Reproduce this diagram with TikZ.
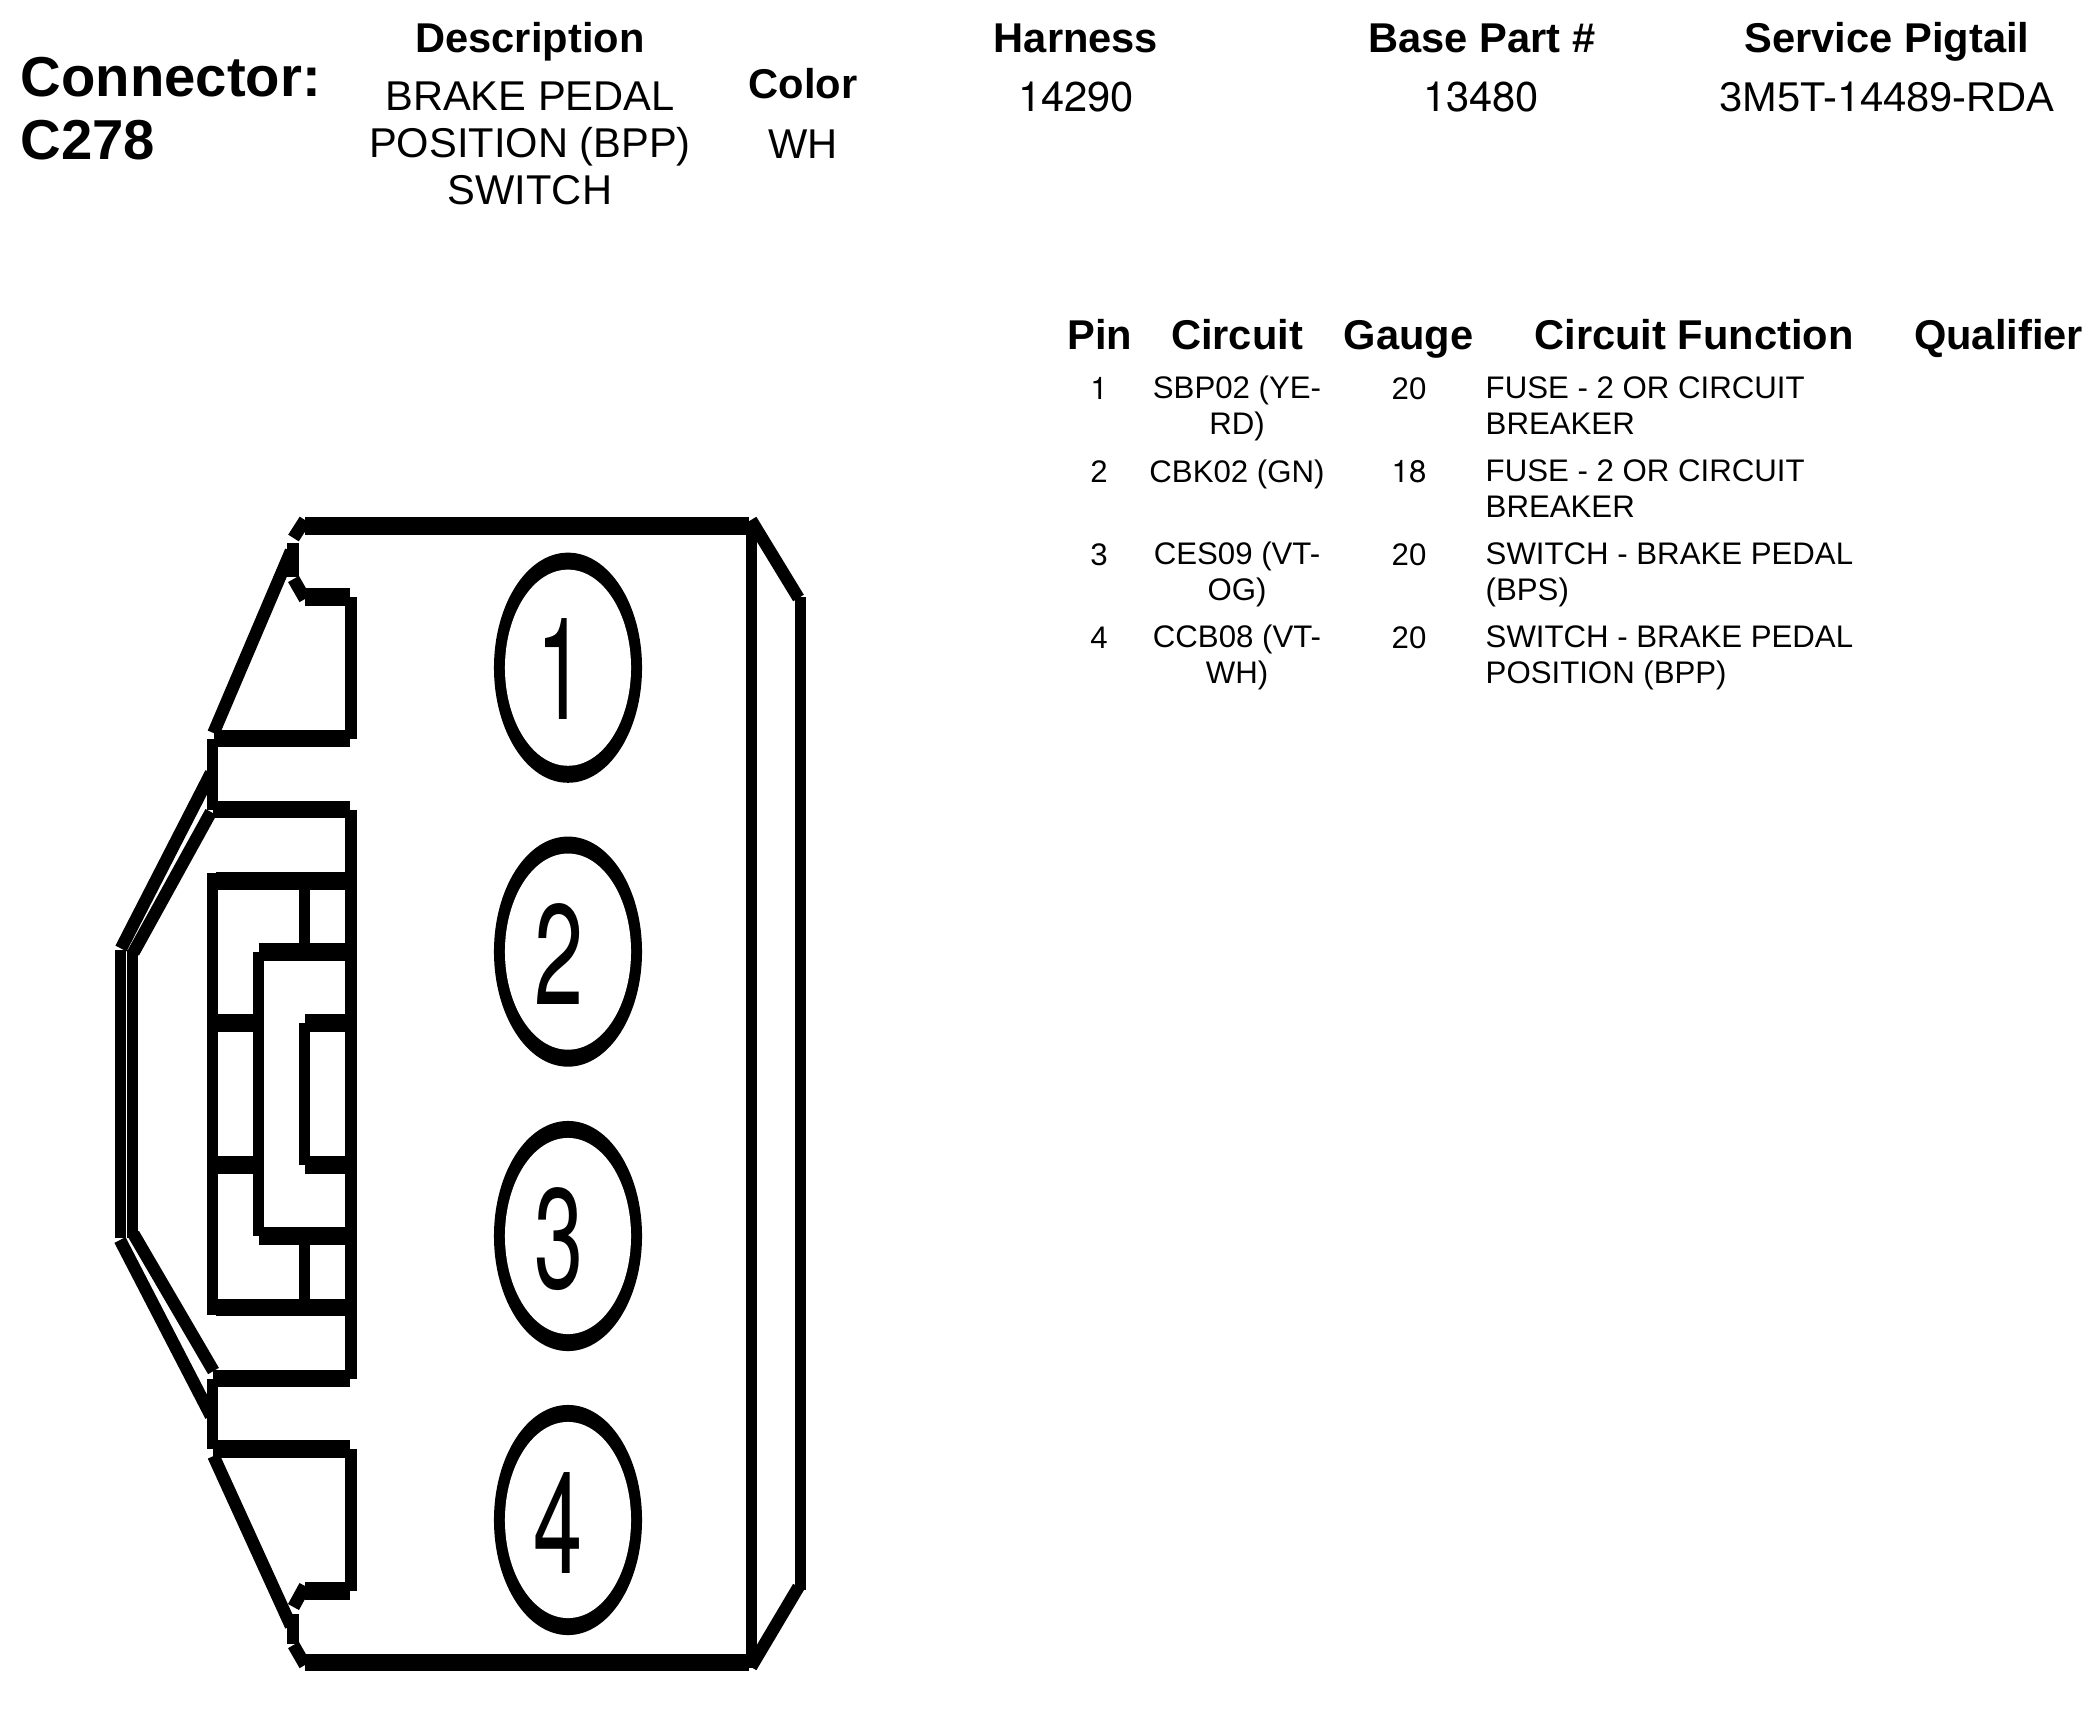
\documentclass[tikz,border=0pt]{standalone}
\usepackage{fontspec}
\setmainfont{Liberation Sans}
\newfontfamily\pinfont{TeX Gyre Heros}
\tikzset{
	hwall/.style={line width=0.175cm},
	vwall/.style={line width=0.11cm},
	slantwall/.style={line width=0.125cm},
	bigtext/.style={inner sep=0pt, anchor=base west, align=left, font=\fontsize{16}{17.9}\selectfont\bfseries},
	headtext/.style={inner sep=0pt, anchor=base, font=\fontsize{11.84}{13.4}\selectfont\bfseries},
	valtext/.style={inner sep=0pt, anchor=base, align=center, font=\fontsize{11.84}{13.3}\selectfont},
	celltext/.style={inner sep=0pt, anchor=base, align=center, font=\fontsize{8.87}{9.96}\selectfont},
	functext/.style={inner sep=0pt, anchor=base west, align=left, font=\fontsize{8.87}{9.96}\selectfont},
	pindigit/.style={inner sep=0pt, xscale=0.62, font=\fontsize{40.5}{40.5}\selectfont\pinfont}
}
\begin{document}
\begin{tikzpicture}[x=0.01cm, y=-0.01cm]
	\useasboundingbox (0,0) rectangle (2096,1720);
	\node[bigtext] (conn) at (20,159.5) {Connector:\\C278};
	\node[headtext] (desc) at (530,52) {Description};
	\node[valtext] (descval) at (530,204) {BRAKE PEDAL\\POSITION (BPP)\\SWITCH};
	\node[headtext] (color) at (803,98) {Color};
	\node[valtext] (colorval) at (803,158) {WH};
	\node[headtext] (harness) at (1076,52) {Harness};
	\node[valtext] (harnessval) at (1076,111) {\pinfont 14290};
	\node[headtext] (base) at (1482,52) {Base Part \#};
	\node[valtext] (baseval) at (1481,111) {\pinfont 13480};
	\node[headtext] (pigtail) at (1887,52) {Service Pigtail};
	\node[valtext] (pigtailval) at (1887,111) {3M5T-{\pinfont 1}4489-RDA};

	\node[headtext] (pin) at (1100,349) {Pin};
	\node[headtext] (circuit) at (1237,349) {Circuit};
	\node[headtext] (gauge) at (1408.5,349) {Gauge};
	\node[headtext] (func) at (1694,349) {Circuit Function};
	\node[headtext] (qual) at (1998.5,349) {Qualifier};

	\node[celltext] (pina) at (1099,399) {\pinfont 1};
	\node[celltext] (cira) at (1237,434) {SBP02 (YE-\\RD)};
	\node[celltext] (gaua) at (1409,399) {20};
	\node[functext] (funa) at (1485,434) {FUSE - 2 OR CIRCUIT\\BREAKER};
	\node[celltext] (pinb) at (1099,482) {2};
	\node[celltext] (cirb) at (1237,482) {CBK02 (GN)};
	\node[celltext] (gaub) at (1409,482) {\pinfont 18};
	\node[functext] (funb) at (1485,517) {FUSE - 2 OR CIRCUIT\\BREAKER};
	\node[celltext] (pinc) at (1099,565) {3};
	\node[celltext] (circ) at (1237,600) {CES09 (VT-\\OG)};
	\node[celltext] (gauc) at (1409,565) {20};
	\node[functext] (func3) at (1485,600) {SWITCH - BRAKE PEDAL\\(BPS)};
	\node[celltext] (pind) at (1099,648) {4};
	\node[celltext] (cird) at (1237,683) {CCB08 (VT-\\WH)};
	\node[celltext] (gaud) at (1409,648) {20};
	\node[functext] (fund) at (1485,683) {SWITCH - BRAKE PEDAL\\POSITION (BPP)};

	\draw[hwall] (305,526) -- (749,526);
	\draw[hwall] (305,1662.5) -- (749,1662.5);
	\draw[vwall] (751,521) -- (751,1668);
	\draw[vwall] (800,597) -- (800,1590);
	\draw[slantwall] (751,520) -- (798.5,598);
	\draw[slantwall] (798.5,1587) -- (751,1667);

	\draw[slantwall] (305,520) -- (293.5,538);
	\draw[vwall] (293,543) -- (293,577);
	\draw[slantwall] (293.5,579) -- (305,599);
	\draw[hwall] (305,597) -- (350,597);
	\draw[vwall] (351,597) -- (351,739);
	\draw[hwall] (213.5,738.5) -- (350,738.5);
	\draw[slantwall] (291,551) -- (213.5,733);
	\draw[vwall] (212.5,739) -- (212.5,810);
	\draw[hwall] (212.5,809.5) -- (350,809.5);
	\draw[slantwall] (211,773) -- (121,948.5);
	\draw[slantwall] (211,812) -- (133.5,952.5);
	\draw[vwall] (120.5,950) -- (120.5,1238);
	\draw[vwall] (132.5,950) -- (132.5,1238);
	\draw[slantwall] (120,1240) -- (211,1416);
	\draw[slantwall] (133.5,1234) -- (213.5,1371);
	\draw[vwall] (212.5,1378.5) -- (212.5,1449);
	\draw[hwall] (212.5,1378.5) -- (350,1378.5);
	\draw[hwall] (212.5,1449) -- (350,1449);
	\draw[vwall] (351,1449) -- (351,1591);
	\draw[hwall] (305,1591) -- (350,1591);
	\draw[slantwall] (305,1586) -- (293.5,1607);
	\draw[vwall] (293,1614) -- (293,1644);
	\draw[slantwall] (293.5,1645) -- (305,1665);
	\draw[slantwall] (213.5,1456) -- (291,1626);

	\draw[vwall] (351,809.5) -- (351,1378.5);
	\draw[hwall] (216,881) -- (351,881);
	\draw[vwall] (212.5,873) -- (212.5,1315);
	\draw[vwall] (304.5,881) -- (304.5,952);
	\draw[hwall] (258.5,952) -- (351,952);
	\draw[vwall] (258.5,952) -- (258.5,1236);
	\draw[hwall] (212.5,1023) -- (258.5,1023);
	\draw[hwall] (305,1023) -- (351,1023);
	\draw[vwall] (304.5,1023) -- (304.5,1165);
	\draw[hwall] (212.5,1165) -- (258.5,1165);
	\draw[hwall] (305,1165) -- (351,1165);
	\draw[hwall] (258.5,1236) -- (351,1236);
	\draw[vwall] (304.5,1236) -- (304.5,1307);
	\draw[hwall] (216,1307.5) -- (351,1307.5);

	\foreach \n/\yc/\xd/\yd in {1/667.7/561/669, 2/951.6/559/954, 3/1236/559/1239, 4/1520/558/1522.5} {
		\fill (568,\yc) ellipse [x radius=0.74cm, y radius=1.15cm];
		\fill[white] (568,\yc) ellipse [x radius=0.63cm, y radius=0.98cm];
		\node[pindigit] (digit\n) at (\xd,\yd) {\n};
	}
\end{tikzpicture}
\end{document}
